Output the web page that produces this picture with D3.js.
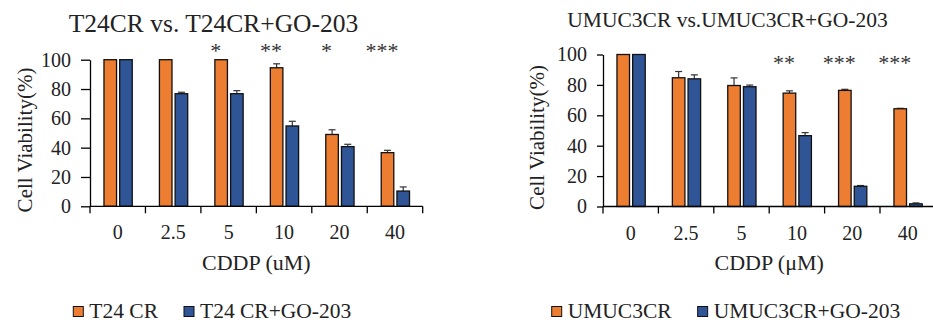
<!DOCTYPE html>
<html>
<head>
<meta charset="utf-8">
<script src="https://cdn.jsdelivr.net/npm/d3@7"></script>
<style>
  body { margin: 0; background: #fff; }
  text { font-family: "Liberation Serif", "Times New Roman", serif; fill: #222; }
</style>
</head>
<body>
<div id="chart"></div>
<script>
// doses on the x axis, shared by both panels
var doses = ["0", "2.5", "5", "10", "20", "40"];
var yTicks = [0, 20, 40, 60, 80, 100];

// T24 panel
var t24Series = ["T24 CR", "T24 CR+GO-203"];
var t24CR = [100, 100, 100, 94.5, 49, 36.6];
var t24CRErr = [0, 0, 0, 2.7, 3.2, 1.6];
var t24GO = [100, 76.8, 76.8, 54.8, 40.7, 10.4];
var t24GOErr = [0, 1, 2.1, 3.2, 1.6, 2.8];
var t24Stars = ["", "", "*", "**", "*", "***"];

// UMUC3 panel
var umucSeries = ["UMUC3CR", "UMUC3CR+GO-203"];
var umucCR = [100, 84.7, 79.6, 74.6, 76.4, 64.3];
var umucCRErr = [0, 4.1, 5, 1.5, 0.7, 0.3];
var umucGO = [100, 84, 78.8, 46.6, 13.3, 1.75];
var umucGOErr = [0, 2.6, 1.1, 2, 0.5, 0.6];
var umucStars = ["", "", "", "**", "***", "***"];

var colors = ["#ED7D31", "#2F5597"];

var svg = d3.select("#chart").append("svg")
  .attr("width", 933)
  .attr("height", 323);

function drawPanel(opt) {
  var g = svg.append("g");

  var x = d3.scaleBand()
    .domain(doses)
    .range([opt.left, opt.right]);
  var bw = x.bandwidth();
  var xs = d3.scaleBand()
    .domain(opt.series)
    .range([bw * 0.252, bw * 0.762])
    .paddingInner(0.2);
  var y = d3.scaleLinear()
    .domain([0, 100])
    .range([opt.bottom, opt.top]);

  // title
  g.append("text")
    .attr("x", opt.titleX)
    .attr("y", opt.titleY)
    .attr("text-anchor", "middle")
    .attr("font-size", opt.titleSize + "px")
    .text(opt.title);

  // y axis
  var yAxis = g.append("g")
    .attr("transform", "translate(" + opt.left + ",0)")
    .call(d3.axisLeft(y).tickValues(yTicks).tickSizeInner(opt.yTick).tickSizeOuter(0).tickPadding(opt.yPad));
  yAxis.select(".domain").attr("stroke", "#000").attr("stroke-width", 1.3);
  yAxis.selectAll(".tick line").attr("stroke", "#000").attr("stroke-width", 1.3);
  yAxis.selectAll(".tick text")
    .attr("font-size", "20px")
    .attr("font-family", "Liberation Serif, Times New Roman, serif")
    .attr("fill", "#222");

  // y label
  g.append("text")
    .attr("transform", "translate(" + opt.ylabX + "," + ((opt.top + opt.bottom) / 2 + 7) + ") rotate(-90)")
    .attr("text-anchor", "middle")
    .attr("font-size", "21px")
    .text("Cell Viability(%)");

  // bars
  var rows = doses.map(function(d, i) {
    return {dose: d, vals: [opt.a[i], opt.b[i]], errs: [opt.aErr[i], opt.bErr[i]]};
  });

  var grp = g.selectAll(".grp")
    .data(rows)
    .enter()
    .append("g")
    .attr("transform", function(d) { return "translate(" + x(d.dose) + ",0)"; });

  var cells = grp.selectAll(".cell")
    .data(function(d) {
      return opt.series.map(function(s, k) { return {s: s, k: k, v: d.vals[k], e: d.errs[k]}; });
    })
    .enter();

  // error bars (upper only)
  cells.append("line")
    .filter(function(d) { return d.e > 0; })
    .attr("x1", function(d) { return xs(d.s) + xs.bandwidth() / 2; })
    .attr("x2", function(d) { return xs(d.s) + xs.bandwidth() / 2; })
    .attr("y1", function(d) { return y(d.v); })
    .attr("y2", function(d) { return y(d.v + d.e); })
    .attr("stroke", "#333")
    .attr("stroke-width", 1.2);
  cells.append("line")
    .filter(function(d) { return d.e > 0; })
    .attr("x1", function(d) { return xs(d.s) + xs.bandwidth() / 2 - 3.5; })
    .attr("x2", function(d) { return xs(d.s) + xs.bandwidth() / 2 + 3.5; })
    .attr("y1", function(d) { return y(d.v + d.e); })
    .attr("y2", function(d) { return y(d.v + d.e); })
    .attr("stroke", "#333")
    .attr("stroke-width", 1.2);

  cells.append("rect")
    .attr("x", function(d) { return xs(d.s); })
    .attr("y", function(d) { return y(d.v); })
    .attr("width", xs.bandwidth())
    .attr("height", function(d) { return y(0) - y(d.v); })
    .attr("fill", function(d) { return colors[d.k]; })
    .attr("stroke", "#111")
    .attr("stroke-width", 1.3);

  // x axis (ticks between categories)
  var xAxis = g.append("g")
    .attr("transform", "translate(0," + opt.bottom + ")");
  xAxis.append("line")
    .attr("x1", opt.left).attr("x2", opt.right)
    .attr("stroke", "#000").attr("stroke-width", 1.3);
  xAxis.selectAll(".sep")
    .data(doses.concat(["end"]))
    .enter()
    .append("line")
    .attr("x1", function(d, i) { return opt.left + i * bw; })
    .attr("x2", function(d, i) { return opt.left + i * bw; })
    .attr("y1", 0).attr("y2", 7)
    .attr("stroke", "#000").attr("stroke-width", 1.3);
  xAxis.selectAll(".lab")
    .data(doses)
    .enter()
    .append("text")
    .attr("x", function(d) { return x(d) + bw / 2; })
    .attr("y", 33)
    .attr("text-anchor", "middle")
    .attr("font-size", "20px")
    .text(function(d) { return d; });

  g.append("text")
    .attr("x", (opt.left + opt.right) / 2)
    .attr("y", 270)
    .attr("text-anchor", "middle")
    .attr("font-size", "22px")
    .text(opt.xlab);

  // significance stars
  g.selectAll(".star")
    .data(opt.stars)
    .enter()
    .append("text")
    .attr("x", function(d, i) { return x(doses[i]) + bw / 2 - 13; })
    .attr("y", opt.starY)
    .attr("text-anchor", "middle")
    .attr("font-size", "22px")
    .style("fill", "#333")
    .text(function(d) { return d; });

  // legend
  var lx = opt.legendX;
  opt.series.forEach(function(s, k) {
    g.append("rect")
      .attr("x", lx).attr("y", 306.5)
      .attr("width", 10).attr("height", 10)
      .attr("fill", colors[k])
      .attr("stroke", "#111").attr("stroke-width", 1);
    var t = g.append("text")
      .attr("x", lx + 16).attr("y", 317.5)
      .attr("font-size", "21.5px")
      .text(s);
    lx = lx + 16 + t.node().getComputedTextLength() + 26;
  });
}

drawPanel({
  left: 90, right: 422.7, top: 59.7, bottom: 206.3,
  title: "T24CR vs. T24CR+GO-203", titleX: 213.5, titleY: 31.5, titleSize: 25.5,
  series: t24Series, a: t24CR, aErr: t24CRErr, b: t24GO, bErr: t24GOErr,
  stars: t24Stars, starY: 57.5,
  xlab: "CDDP (uM)", ylabX: 32, yTick: 9, yPad: 10,
  legendX: 73.3
});

drawPanel({
  left: 603, right: 935.4, top: 54.5, bottom: 206.5,
  title: "UMUC3CR vs.UMUC3CR+GO-203", titleX: 727.5, titleY: 26.7, titleSize: 21.5,
  series: umucSeries, a: umucCR, aErr: umucCRErr, b: umucGO, bErr: umucGOErr,
  stars: umucStars, starY: 69.5,
  xlab: "CDDP (\u03bcM)", ylabX: 543.5, yTick: 6, yPad: 10,
  legendX: 551.7
});
</script>
</body>
</html>
